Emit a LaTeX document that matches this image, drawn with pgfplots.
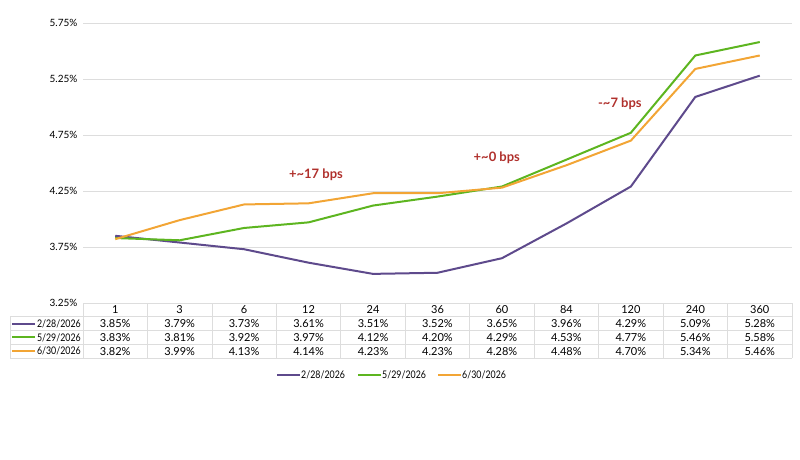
\documentclass[border=0pt]{standalone}
\usepackage{pgfplots}
\pgfplotsset{compat=1.18}
\usepackage{pgfplotstable}
\usepackage{fontspec}
\setmainfont{Lato}
\newfontfamily\datefont{Lato}[FakeStretch=0.84]
\definecolor{cpurple}{HTML}{5E4A8C}
\definecolor{cgreen}{HTML}{5DB520}
\definecolor{corange}{HTML}{F2A535}
\definecolor{cred}{HTML}{B0302C}
\definecolor{cgrid}{HTML}{DDDDDD}
\pgfplotstableread{
x a b c
0 3.85 3.83 3.82
1 3.79 3.81 3.99
2 3.73 3.92 4.13
3 3.61 3.97 4.14
4 3.51 4.12 4.23
5 3.52 4.20 4.23
6 3.65 4.29 4.28
7 3.96 4.53 4.48
8 4.29 4.77 4.70
9 5.09 5.46 5.34
10 5.28 5.58 5.46
}\curve
\begin{document}
\begin{tikzpicture}[x=1pt,y=1pt,font=\fontsize{11}{13}\selectfont]
\path[use as bounding box] (0,0) rectangle (800,459);
\begin{axis}[
  at={(83pt,156pt)}, anchor=south west,
  scale only axis, width=709pt, height=280pt,
  xmin=-0.5, xmax=10.5, ymin=3.25, ymax=5.75,
  axis line style={draw=none},
  xtick=\empty,
  ytick={3.25,3.75,4.25,4.75,5.25,5.75},
  yticklabels={3.25\%,3.75\%,4.25\%,4.75\%,5.25\%,5.75\%},
  ymajorgrids, major grid style={cgrid, line width=0.8pt},
  yticklabel style={font=\fontsize{10}{12}\selectfont, xshift=-2pt},
  major tick length=0pt,
  tick style={draw=none},
  clip=false,
]
\addplot[cpurple, line width=2pt] table[x=x,y=a]{\curve};
\addplot[cgreen, line width=2pt] table[x=x,y=b]{\curve};
\addplot[corange, line width=2pt] table[x=x,y=c]{\curve};
\node[text=cred, font=\fontsize{13}{15}\selectfont\bfseries] at (axis cs:3.115,4.393) {+\textasciitilde17 bps};
\node[text=cred, font=\fontsize{13}{15}\selectfont\bfseries] at (axis cs:5.92,4.545) {+\textasciitilde0 bps};
\node[text=cred, font=\fontsize{13}{15}\selectfont\bfseries] at (axis cs:7.83,5.027) {-\textasciitilde7 bps};
\end{axis}
% table grid
\def\cw{64.4545}
\draw[cgrid, line width=0.8pt] (83,156) -- (792,156);
\foreach \yy in {142.25,128.5,114.75,101} \draw[cgrid, line width=0.8pt] (10,\yy) -- (792,\yy);
\foreach \k in {0,...,11} \draw[cgrid, line width=0.8pt] ({83+\k*\cw},156) -- ({83+\k*\cw},101);
\draw[cgrid, line width=0.8pt] (10,142.25) -- (10,101);
% header
\foreach \h [count=\i from 0] in {1,3,6,12,24,36,60,84,120,240,360}
  \node at ({83+(\i+0.5)*\cw},149.1) {\h};
% rows
\foreach \v [count=\i from 0] in {3.85,3.79,3.73,3.61,3.51,3.52,3.65,3.96,4.29,5.09,5.28}
  \node at ({83+(\i+0.5)*\cw},135.4) {\v\%};
\foreach \v [count=\i from 0] in {3.83,3.81,3.92,3.97,4.12,4.20,4.29,4.53,4.77,5.46,5.58}
  \node at ({83+(\i+0.5)*\cw},121.6) {\v\%};
\foreach \v [count=\i from 0] in {3.82,3.99,4.13,4.14,4.23,4.23,4.28,4.48,4.70,5.34,5.46}
  \node at ({83+(\i+0.5)*\cw},107.9) {\v\%};
% row labels
\begin{scope}[font=\fontsize{10.5}{12}\datefont]
\draw[cpurple, line width=2pt] (12,135.4) -- (35,135.4);
\node[anchor=east, inner sep=0pt] at (81,135.4) {2/28/2026};
\draw[cgreen, line width=2pt] (12,121.6) -- (35,121.6);
\node[anchor=east, inner sep=0pt] at (81,121.6) {5/29/2026};
\draw[corange, line width=2pt] (12,107.9) -- (35,107.9);
\node[anchor=east, inner sep=0pt] at (81,107.9) {6/30/2026};
% legend
\draw[cpurple, line width=2pt] (277,84) -- (300,84);
\node[anchor=west, inner sep=0pt] at (301,84) {2/28/2026};
\draw[cgreen, line width=2pt] (358,84) -- (381,84);
\node[anchor=west, inner sep=0pt] at (382,84) {5/29/2026};
\draw[corange, line width=2pt] (438,84) -- (461,84);
\node[anchor=west, inner sep=0pt] at (462,84) {6/30/2026};
\end{scope}
\end{tikzpicture}
\end{document}
